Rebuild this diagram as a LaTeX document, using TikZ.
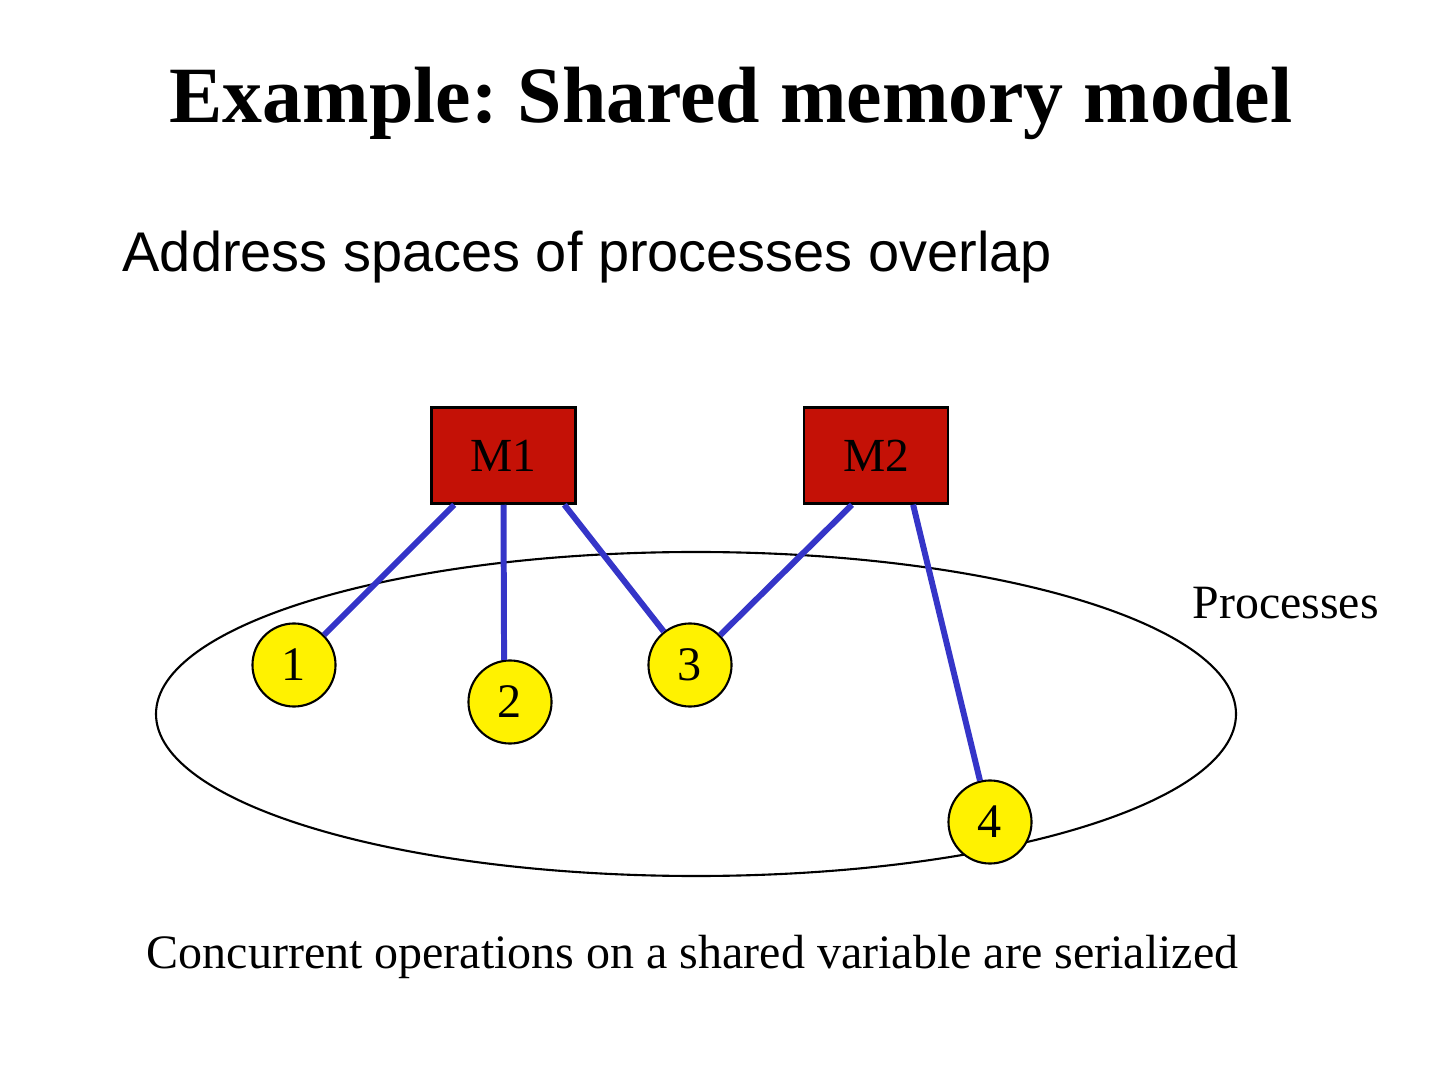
\documentclass[tikz,border=0pt]{standalone}
\usepackage{fontspec}
\setmainfont{Liberation Serif}
\newfontfamily\arialfont{Liberation Sans}
\definecolor{memred}{HTML}{C41106}
\definecolor{linkblue}{HTML}{3535C8}
\frenchspacing

\begin{document}
\begin{tikzpicture}[x=0.01cm, y=-0.01cm,
        mem/.style={draw, line width=0.7pt, fill=memred, minimum width=1.44cm, minimum height=0.96cm, inner sep=0pt, font=\fontsize{13.5}{16}\selectfont},
        proc/.style={draw, circle, line width=0.6pt, fill=yellow, minimum size=0.83cm, inner sep=0pt, font=\fontsize{13.7}{16}\selectfont},
        link/.style={linkblue, line width=1.7pt}]
        \useasboundingbox (0,0) rectangle (1440,1080);
        \node[anchor=base, font=\fontsize{22.7}{27}\selectfont\bfseries] (title) at (731,123) {Example: Shared memory model};
        \node[anchor=base west, inner sep=0pt, font=\arialfont\fontsize{15.9}{19}\selectfont] (sub) at (122,272) {Address spaces of processes overlap};
        \draw[line width=0.6pt] (696,714) ellipse [x radius=540, y radius=162];
        \node[anchor=base west, inner sep=0pt, font=\fontsize{13.6}{16}\selectfont] (plabel) at (1192,619) {Processes};
        \node[mem] (M1) at (503.5,455.5) {M1};
        \node[mem] (M2) at (876,455.5) {M2};
        \node[proc] (p1) at (294,665) {1};
        \node[proc] (p2) at (510,702) {2};
        \node[proc] (p3) at (690,665) {3};
        \node[proc] (p4) at (990,822) {4};
        \draw[link] (M1.-135) -- (p1);
        \draw[link] (M1.south) -- (p2.98);
        \draw[link] (M1.-39) -- (p3);
        \draw[link] (M2.-116) -- (p3);
        \draw[link] (M2.-53) -- (p4);
        \node[anchor=base west, inner sep=0pt, font=\fontsize{13.65}{16}\selectfont] (note) at (146,968) {Concurrent operations on a shared variable are serialized};
    \end{tikzpicture}
\end{document}
